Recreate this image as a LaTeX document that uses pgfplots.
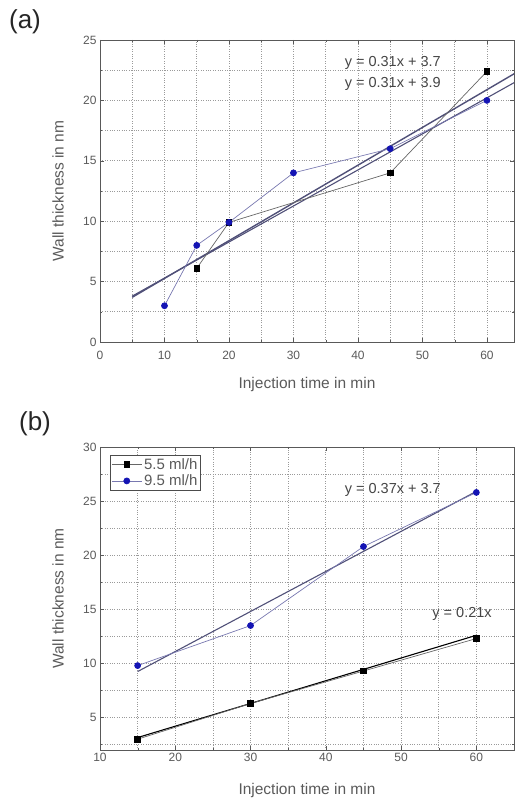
\documentclass[border=0pt]{standalone}
\usepackage{fontspec}
\setmainfont{Liberation Sans}
\usepackage{pgfplots}
\pgfplotsset{compat=1.18}
\definecolor{txt}{HTML}{5A5A5A}
\definecolor{anno}{HTML}{454545}
\definecolor{grd}{HTML}{9A9A9A}
\definecolor{mblue}{HTML}{1414B4}
\definecolor{fitc}{HTML}{505078}
\definecolor{lblue}{HTML}{7878B0}
\pgfplotsset{mystyle/.style={
  scale only axis, width=414pt,
  axis line style={draw=black!65, line width=0.9pt},
  tick style={draw=black!65},
  tick align=inside,
  major tick length=4pt, minor tick length=2pt,
  grid=both,
  major grid style={dotted, draw=grd, line width=0.7pt},
  minor grid style={dotted, draw=grd, line width=0.7pt},
  tick label style={font=\fontsize{12}{14}\selectfont, text=txt},
  label style={font=\fontsize{15.5}{18}\selectfont, text=txt},
  /pgf/number format/assume math mode=true,
  clip=true,
}}
\begin{document}
\begin{tikzpicture}[x=1pt,y=1pt]
\useasboundingbox (0,0) rectangle (514,800);
\node[font=\fontsize{26}{28}\selectfont, text=black!85] at (25,778) {(a)};
\begin{axis}[mystyle, height=302pt, at={(100pt,458pt)}, anchor=south west,
  xmin=0, xmax=64.2, ymin=0, ymax=25,
  xtick={0,10,...,60}, minor xtick={5,15,...,55},
  ytick={0,5,...,25}, minor ytick={2.5,7.5,...,22.5},
  xticklabel style={yshift=-6pt},
  xlabel={Injection time in min}, ylabel={Wall thickness in nm},
  xlabel style={at={(axis description cs:0.5,-0.142)}, anchor=center},
  ylabel style={at={(axis description cs:-0.1014,0.5)}, anchor=center},
]
\addplot[fitc, line width=1.4pt, no marks] coordinates {(5,3.7) (66,22.76)};
\addplot[fitc, line width=1.1pt, no marks] coordinates {(5,3.8) (66,22.0)};
\addplot[draw=black!60, line width=0.7pt, mark=square*, mark size=2.8pt,
  mark options={fill=black, draw=black}] coordinates {(15,6.1) (20,9.9) (45,14) (60,22.4)};
\addplot[draw=lblue, line width=0.7pt, mark=*, mark size=3pt,
  mark options={fill=mblue, draw=mblue}] coordinates {(10,3) (15,8) (20,9.9) (30,14) (45,16) (60,20)};
\node[font=\fontsize{14.5}{16}\selectfont, text=anno] at (axis cs:45.4,23.1) {y = 0.31x + 3.7};
\node[font=\fontsize{14.5}{16}\selectfont, text=anno] at (axis cs:45.4,21.4) {y = 0.31x + 3.9};
\end{axis}
\node[font=\fontsize{26}{28}\selectfont, text=black!85] at (35,376) {(b)};
\begin{axis}[mystyle, height=303pt, at={(100pt,50pt)}, anchor=south west,
  xmin=10, xmax=65, ymin=2, ymax=30,
  xtick={10,20,...,60}, minor xtick={15,25,...,55},
  ytick={5,10,...,30}, minor ytick={2.5,7.5,...,27.5},
  xticklabel style={yshift=0pt},
  xlabel={Injection time in min}, ylabel={Wall thickness in nm},
  xlabel style={at={(axis description cs:0.5,-0.132)}, anchor=center},
  ylabel style={at={(axis description cs:-0.1014,0.5)}, anchor=center},
  legend style={at={(axis description cs:0.024,0.974)}, anchor=north west,
    font=\fontsize{15}{16}\selectfont, text=txt, draw=black!70, line width=1pt,
    inner sep=1pt, row sep=0pt},
  legend cell align=left,
  legend image code/.code={\draw[mark repeat=2,mark phase=2,#1] plot coordinates {(0pt,0pt) (15pt,0pt) (30pt,0pt)};},
]
\addplot[forget plot, fitc, line width=1.1pt, no marks] coordinates {(15,9.25) (60,25.9)};
\addplot[forget plot, black, line width=1.1pt, no marks] coordinates {(15,3.15) (60,12.6)};
\addplot[draw=black!60, line width=0.7pt, mark=square*, mark size=2.8pt,
  mark options={fill=black, draw=black}] coordinates {(15,3) (30,6.3) (45,9.3) (60,12.3)};
\addlegendentry{5.5 ml/h}
\addplot[draw=lblue, line width=0.7pt, mark=*, mark size=3pt,
  mark options={fill=mblue, draw=mblue}] coordinates {(15,9.8) (30,13.5) (45,20.8) (60,25.8)};
\addlegendentry{9.5 ml/h}
\node[font=\fontsize{14.5}{16}\selectfont, text=anno] at (axis cs:48.9,26.0) {y = 0.37x + 3.7};
\node[font=\fontsize{14.5}{16}\selectfont, text=anno] at (axis cs:58.1,14.6) {y = 0.21x};
\end{axis}
\end{tikzpicture}
\end{document}
